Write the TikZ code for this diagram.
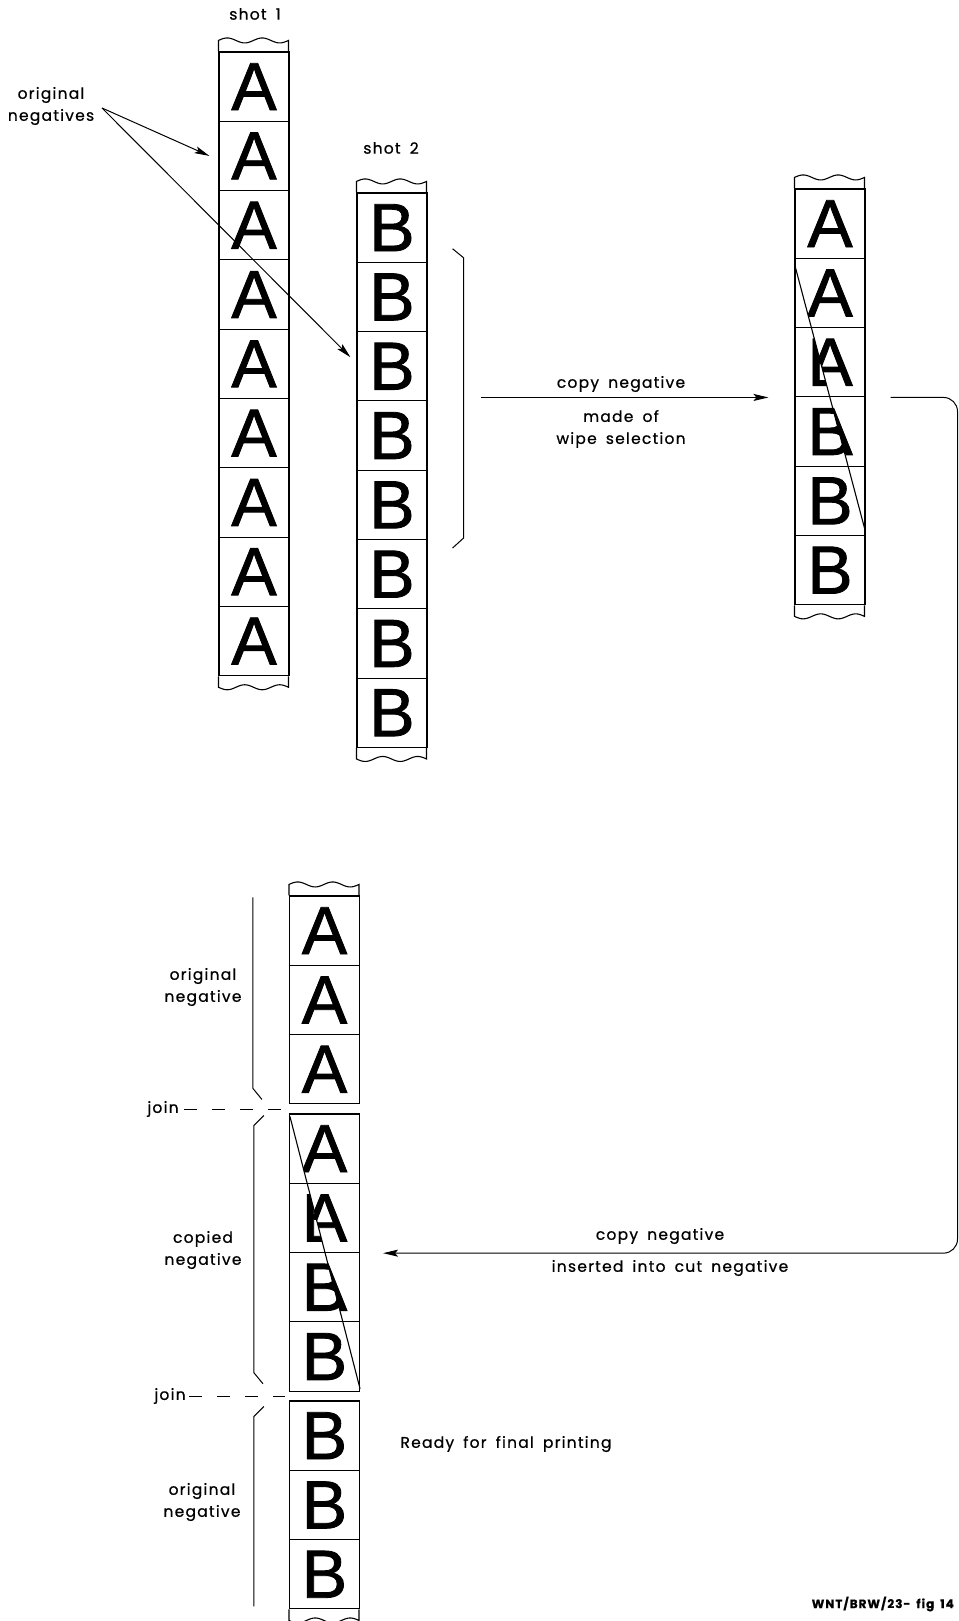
\documentclass[tikz,border=0pt]{standalone}
\usepackage{fontspec}
\setmainfont{Poppins}[LetterSpace=8,WordSpace=1.7,FakeBold=0.7]
\newfontfamily\bigfont{Liberation Sans}[FakeBold=1.2]
\usetikzlibrary{arrows.meta,positioning,calc}

\newcommand{\bigletter}{\bigfont\fontsize{68}{68}\selectfont}
\newcommand{\lblfont}{\fontsize{15.5}{22}\selectfont}
\newcommand{\figfont}{\fontsize{12}{14}\selectfont\bfseries}
% wavy cut end of a film strip: #1 corner anchor, #2 = -1 (top) or 1 (bottom)
\newcommand{\filmend}[2]{%
  \begin{scope}[shift={(#1)}]
    \draw[film] (0,0) -- (0,#2*11) -- plot[domain=0:70,samples=41,smooth] (\x,{#2*(11+2.5*sin(\x/70*720))}) -- (70,0);
  \end{scope}}

\begin{document}
\begin{tikzpicture}[x=1pt,y=-1pt,
 filmcell/.style={draw, line width=1.1pt, minimum width=70pt, minimum height=69.3pt, inner sep=0pt, font=\bigletter},
 letter/.style={inner sep=0pt, font=\bigletter},
 film/.style={line width=1.1pt},
 lbl/.style={font=\lblfont, align=center, inner sep=0pt},
 ar/.style={-{Stealth[length=15pt,width=7pt,inset=3pt]}, line width=1pt},
 brk/.style={line width=1pt},
 joinline/.style={line width=1pt, dash pattern=on 13pt off 15pt},
]
 \clip (0,0) rectangle (958,1621);

 % shot 1 and shot 2
 \foreach \i in {1,...,9} \node[filmcell] (s1-\i) at (254,{52+69.3*(\i-0.5)}) {A};
 \foreach \i in {1,...,8} \node[filmcell] (s2-\i) at (392,{193+69.3*(\i-0.5)}) {B};
 \filmend{s1-1.north west}{-1}
 \filmend{s1-9.south west}{1}
 \filmend{s2-1.north west}{-1}
 \filmend{s2-8.south west}{1}
 \node[lbl] (shot1) at (255,14) {shot 1};
 \node[lbl] (shot2) at (391,148) {shot 2};

 \node[lbl] (orig) at (51,106) {original\\negatives};
 \coordinate (fork) at (102,108);
 \draw[ar] (fork) -- ([xshift=-9pt]s1-2.west);
 \draw[ar] (fork) -- ([xshift=-6pt,yshift=9pt]s2-3.west);

 % bracket round the wipe selection
 \draw[brk] ($(s2-2.north east)+(25,-13)$) -- ++(11,9) -- ($(s2-5.south east)+(36,-2)$) -- ++(-11,10);

 % copy negative
 \node[filmcell] (s3-1) at (830,{189+69.3*0.5}) {A};
 \foreach \i in {2,...,5} \node[filmcell] (s3-\i) at (830,{189+69.3*(\i-0.5)}) {};
 \node[filmcell] (s3-6) at (830,{189+69.3*5.5}) {B};
 \filmend{s3-1.north west}{-1}
 \filmend{s3-6.south west}{1}
 \coordinate (w1) at ($(s3-2.north west)+(0,6)$);
 \coordinate (w2) at ($(s3-5.south east)+(0,-4)$);
 \begin{scope}
  \clip ($(w1)!-0.2!(w2)$) -- ($(w1)!1.2!(w2)$) -- ++(-150,0) -- ($(w1)!-0.2!(w2)+(-150,0)$) -- cycle;
  \foreach \i in {2,...,5} \node[letter] (s3b-\i) at (s3-\i) {B};
 \end{scope}
 \begin{scope}
  \clip ($(w1)!-0.2!(w2)$) -- ($(w1)!1.2!(w2)$) -- ++(150,0) -- ($(w1)!-0.2!(w2)+(150,0)$) -- cycle;
  \foreach \i in {2,...,5} \node[letter] (s3a-\i) at (s3-\i) {A};
 \end{scope}
 \draw[film] (w1) -- (w2);

 \draw[ar] ($(s3-3.south west)+(-313,0)$) -- ([xshift=-26pt]s3-3.south west);
 \node[lbl] (cp1) at (621,384) {copy negative};
 \node[lbl] (made) at (621,429) {made of\\wipe selection};

 % cut negative
 \foreach \i in {1,2,3} \node[filmcell] (p1-\i) at (324.5,{896+69.3*(\i-0.5)}) {A};
 \foreach \i in {1,...,4} \node[filmcell] (p2-\i) at (324.5,{1114+69.3*(\i-0.5)}) {};
 \foreach \i in {1,2,3} \node[filmcell] (p3-\i) at (324.5,{1401+69.3*(\i-0.5)}) {B};
 \filmend{p1-1.north west}{-1}
 \filmend{p3-3.south west}{1}
 \coordinate (v1) at ($(p2-1.north west)+(1,3)$);
 \coordinate (v2) at ($(p2-4.south east)+(0,-3)$);
 \begin{scope}
  \clip ($(v1)!-0.2!(v2)$) -- ($(v1)!1.2!(v2)$) -- ++(-150,0) -- ($(v1)!-0.2!(v2)+(-150,0)$) -- cycle;
  \foreach \i in {1,...,4} \node[letter] (p2b-\i) at (p2-\i) {B};
 \end{scope}
 \begin{scope}
  \clip ($(v1)!-0.2!(v2)$) -- ($(v1)!1.2!(v2)$) -- ++(150,0) -- ($(v1)!-0.2!(v2)+(150,0)$) -- cycle;
  \foreach \i in {1,...,4} \node[letter] (p2a-\i) at (p2-\i) {A};
 \end{scope}
 \draw[film] (v1) -- (v2);

 \coordinate (rim) at (957.5,800);
 \draw[ar, rounded corners=14pt] ($(s3-3.south east)+(25,0)$) -| (rim |- p2-2.south east) -- ($(p2-2.south east)+(23,0)$);
 \node[lbl] (cp2) at (660,1236) {copy negative};
 \node[lbl] (ins) at (670,1268) {inserted into cut negative};

 % brackets and joins
 \draw[brk] ($(p1-1.north west)+(-36,2)$) -- ($(p1-3.south west)+(-36,-16)$) -- ++(9,11);
 \draw[brk] ($(p2-1.north west)+(-25,2)$) -- ++(-10,10) -- ($(p2-4.south west)+(-35,-19)$) -- ++(9,11);
 \draw[brk] ($(p3-1.north west)+(-25,6)$) -- ++(-10,10) -- ($(p3-3.south west)+(-35,-3)$);
 \node[lbl] (orig1) at (203,987) {original\\negative};
 \node[lbl] (copied) at (203,1250) {copied\\negative};
 \node[lbl] (orig2) at (202,1502) {original\\negative};

 \coordinate (gap1) at ($(p1-3.south west)!0.5!(p2-1.north west)+(-4,0)$);
 \coordinate (gap2) at ($(p2-4.south west)!0.5!(p3-1.north west)+(-4,0)$);
 \node[lbl] (join1) at (163,1109) {join};
 \node[lbl] (join2) at (170,1396) {join};
 \draw[joinline] ([xshift=5pt]join1.east) -- (join1.east -| gap1);
 \draw[joinline] ([xshift=3pt]join2.east) -- (join2.east -| gap2);

 \node[lbl] (ready) at (506,1444) {Ready for final printing};
 \node[lbl, anchor=east, font=\figfont] (figref) at (954,1604) {WNT/BRW/23- fig 14};
\end{tikzpicture}
\end{document}
